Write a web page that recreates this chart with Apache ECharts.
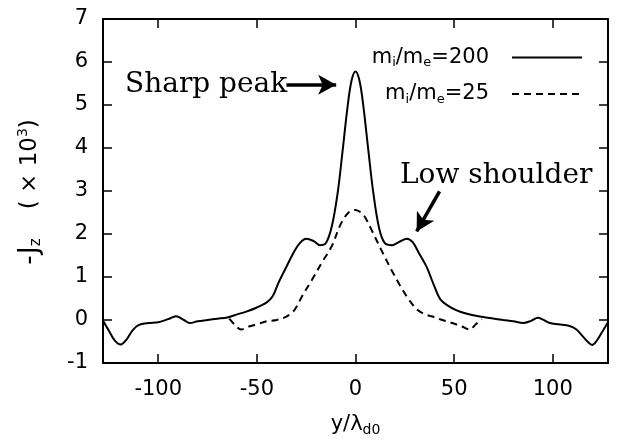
<!DOCTYPE html>
<html>
<head>
<meta charset="utf-8">
<script src="https://cdn.jsdelivr.net/npm/echarts@6/dist/echarts.min.js"></script>
<style>html,body{margin:0;padding:0;background:#fff}#c{width:618px;height:442px}</style>
</head>
<body>
<div id="c"></div>
<script>
// ---- data ----
var xTicks = [-100, -50, 0, 50, 100];
var yTicks = [-1, 0, 1, 2, 3, 4, 5, 6, 7];

var name200 = 'm_i/m_e=200';
var name25 = 'm_i/m_e=25';

var x200 = [-128,-125,-122,-119,-116,-113,-110,-105,-100,-95,-91,-87,-84,-80,-75,-70,-65,-60,-55,-50,-45,-42,-39,-35,-31,-28,-25,-21,-18,-15,-12,-9,-6.5,-4,-2,0,2,4,6.5,9,12,15,18.5,22,26,29,32,36,40,43,47,51,56,63,69,75,80,85,89,92.5,95,98.5,103,108.5,112,115,118,120,122,125,128];
var y200 = [-0.02,-0.25,-0.48,-0.57,-0.45,-0.24,-0.12,-0.07,-0.05,0.02,0.09,0.0,-0.07,-0.03,0.0,0.03,0.06,0.13,0.2,0.29,0.41,0.55,0.87,1.24,1.6,1.8,1.89,1.83,1.74,1.79,2.18,2.97,3.95,4.97,5.57,5.78,5.57,4.97,3.95,2.97,2.13,1.78,1.74,1.81,1.89,1.81,1.57,1.24,0.78,0.48,0.33,0.23,0.15,0.08,0.04,0.0,-0.03,-0.07,-0.02,0.05,0.01,-0.07,-0.1,-0.14,-0.22,-0.37,-0.52,-0.58,-0.5,-0.28,-0.05];

var x25 = [-64,-61,-58,-54,-50,-45,-40,-35,-31,-27,-22,-17,-12,-7.5,-3.5,0,3,5,8.5,13.5,18.5,22.5,26.5,31.5,36,39,44,49,54,58,61,64];
var y25 = [0.03,-0.12,-0.22,-0.15,-0.1,-0.03,0.0,0.08,0.23,0.56,0.94,1.34,1.72,2.23,2.5,2.56,2.49,2.38,2.06,1.59,1.14,0.81,0.51,0.23,0.12,0.08,0.0,-0.07,-0.15,-0.22,-0.1,0.02];

// annotation arrows in data coordinates [tail, head tip]
var arrowPeak = [[-35, 5.47], [-9.8, 5.47]];
var arrowShoulder = [[42.6, 2.99], [31, 2.06]];

function zip(xs, ys) { return xs.map(function (x, i) { return [x, ys[i]]; }); }

var FONT = 'DejaVu Sans';
var SERIF = 'DejaVu Serif';

var chart = echarts.init(document.getElementById('c'), null, {renderer: 'canvas'});

var axisCommon = {
  axisLine: {show: true, onZero: false, lineStyle: {color: '#000', width: 2}},
  axisTick: {show: true, inside: true, length: 9, lineStyle: {color: '#000', width: 1.5}},
  splitLine: {show: false}
};

function legendFmt(name) {
  return name === name200
    ? '{a|m}{s|i}{a|/m}{s|e}{a|=200}{g|}'
    : '{a|m}{s|i}{a|/m}{s|e}{a|=25}{g|}';
}

var option = {
  animation: false,
  backgroundColor: '#fff',
  grid: {left: 103, right: 10, top: 19, bottom: 76, containLabel: false},
  xAxis: [
    Object.assign({}, axisCommon, {
      type: 'value', position: 'bottom', min: -128, max: 128,
      axisTick: Object.assign({}, axisCommon.axisTick, {customValues: xTicks}),
      axisLabel: {customValues: xTicks, color: '#000', fontFamily: FONT, fontSize: 21, margin: 16},
      name: '{a|y/λ}{s|d0}', nameLocation: 'middle', nameGap: 50,
      nameTextStyle: {rich: {
        a: {fontFamily: FONT, fontSize: 21, color: '#000', lineHeight: 24},
        s: {fontFamily: FONT, fontSize: 14, color: '#000', verticalAlign: 'bottom', lineHeight: 8}
      }}
    }),
    Object.assign({}, axisCommon, {
      type: 'value', position: 'top', min: -128, max: 128,
      axisTick: Object.assign({}, axisCommon.axisTick, {customValues: xTicks}),
      axisLabel: {show: false}
    })
  ],
  yAxis: [
    Object.assign({}, axisCommon, {
      type: 'value', position: 'left', min: -1, max: 7, interval: 1,
      axisLabel: {color: '#000', fontFamily: FONT, fontSize: 21, margin: 15}
    }),
    Object.assign({}, axisCommon, {
      type: 'value', position: 'right', min: -1, max: 7, interval: 1,
      axisLabel: {show: false}
    })
  ],
  legend: {
    orient: 'vertical', right: 30, top: 42, align: 'right',
    itemWidth: 70, itemHeight: 14, itemGap: 14,
    selectedMode: false,
    itemStyle: {opacity: 0},
    data: [name200, name25],
    formatter: legendFmt,
    textStyle: {
      color: '#000', fontFamily: FONT, fontSize: 21,
      rich: {
        a: {fontFamily: FONT, fontSize: 21, color: '#000', lineHeight: 24},
        s: {fontFamily: FONT, fontSize: 13, color: '#000', verticalAlign: 'bottom', lineHeight: 8},
        g: {width: 18}
      }
    }
  },
  graphic: [
    {
      type: 'text', x: 30, y: 192, rotation: Math.PI / 2,
      style: {
        text: '{j|-J}{s|z}{a|    ( × 10}{p|3}{a|)}',
        align: 'center', verticalAlign: 'middle',
        rich: {
          j: {fontFamily: FONT, fontSize: 26, fill: '#000', lineHeight: 28},
          a: {fontFamily: FONT, fontSize: 23, fill: '#000', lineHeight: 28},
          s: {fontFamily: FONT, fontSize: 15, fill: '#000', verticalAlign: 'bottom', lineHeight: 8},
          p: {fontFamily: FONT, fontSize: 14, fill: '#000', verticalAlign: 'top', lineHeight: 10}
        }
      }
    },
    {
      type: 'text', x: 125, y: 85,
      style: {text: 'Sharp peak', fontFamily: SERIF, fontSize: 28, fill: '#000', align: 'left', verticalAlign: 'middle'}
    },
    {
      type: 'text', x: 400, y: 176,
      style: {text: 'Low shoulder', fontFamily: SERIF, fontSize: 28, fill: '#000', align: 'left', verticalAlign: 'middle'}
    }
  ],
  series: [
    {
      name: name200, type: 'line', xAxisIndex: 0, yAxisIndex: 0,
      data: zip(x200, y200), smooth: 0.35, symbol: 'none',
      lineStyle: {color: '#000', width: 2, type: 'solid'},
      itemStyle: {color: '#000'},
      emphasis: {disabled: true},
      markLine: {
        silent: true, symbol: ['none', 'arrow'], symbolSize: [15, 18],
        label: {show: false},
        lineStyle: {color: '#000', width: 3.5, type: 'solid'},
        itemStyle: {color: '#000'},
        emphasis: {disabled: true},
        data: [
          [{coord: arrowPeak[0]}, {coord: arrowPeak[1]}],
          [{coord: arrowShoulder[0]}, {coord: arrowShoulder[1]}]
        ]
      }
    },
    {
      name: name25, type: 'line', xAxisIndex: 0, yAxisIndex: 0,
      data: zip(x25, y25), smooth: 0.35, symbol: 'none',
      lineStyle: {color: '#000', width: 2, type: [7, 5]},
      itemStyle: {color: '#000'},
      emphasis: {disabled: true}
    }
  ]
};

chart.setOption(option);
</script>
</body>
</html>
